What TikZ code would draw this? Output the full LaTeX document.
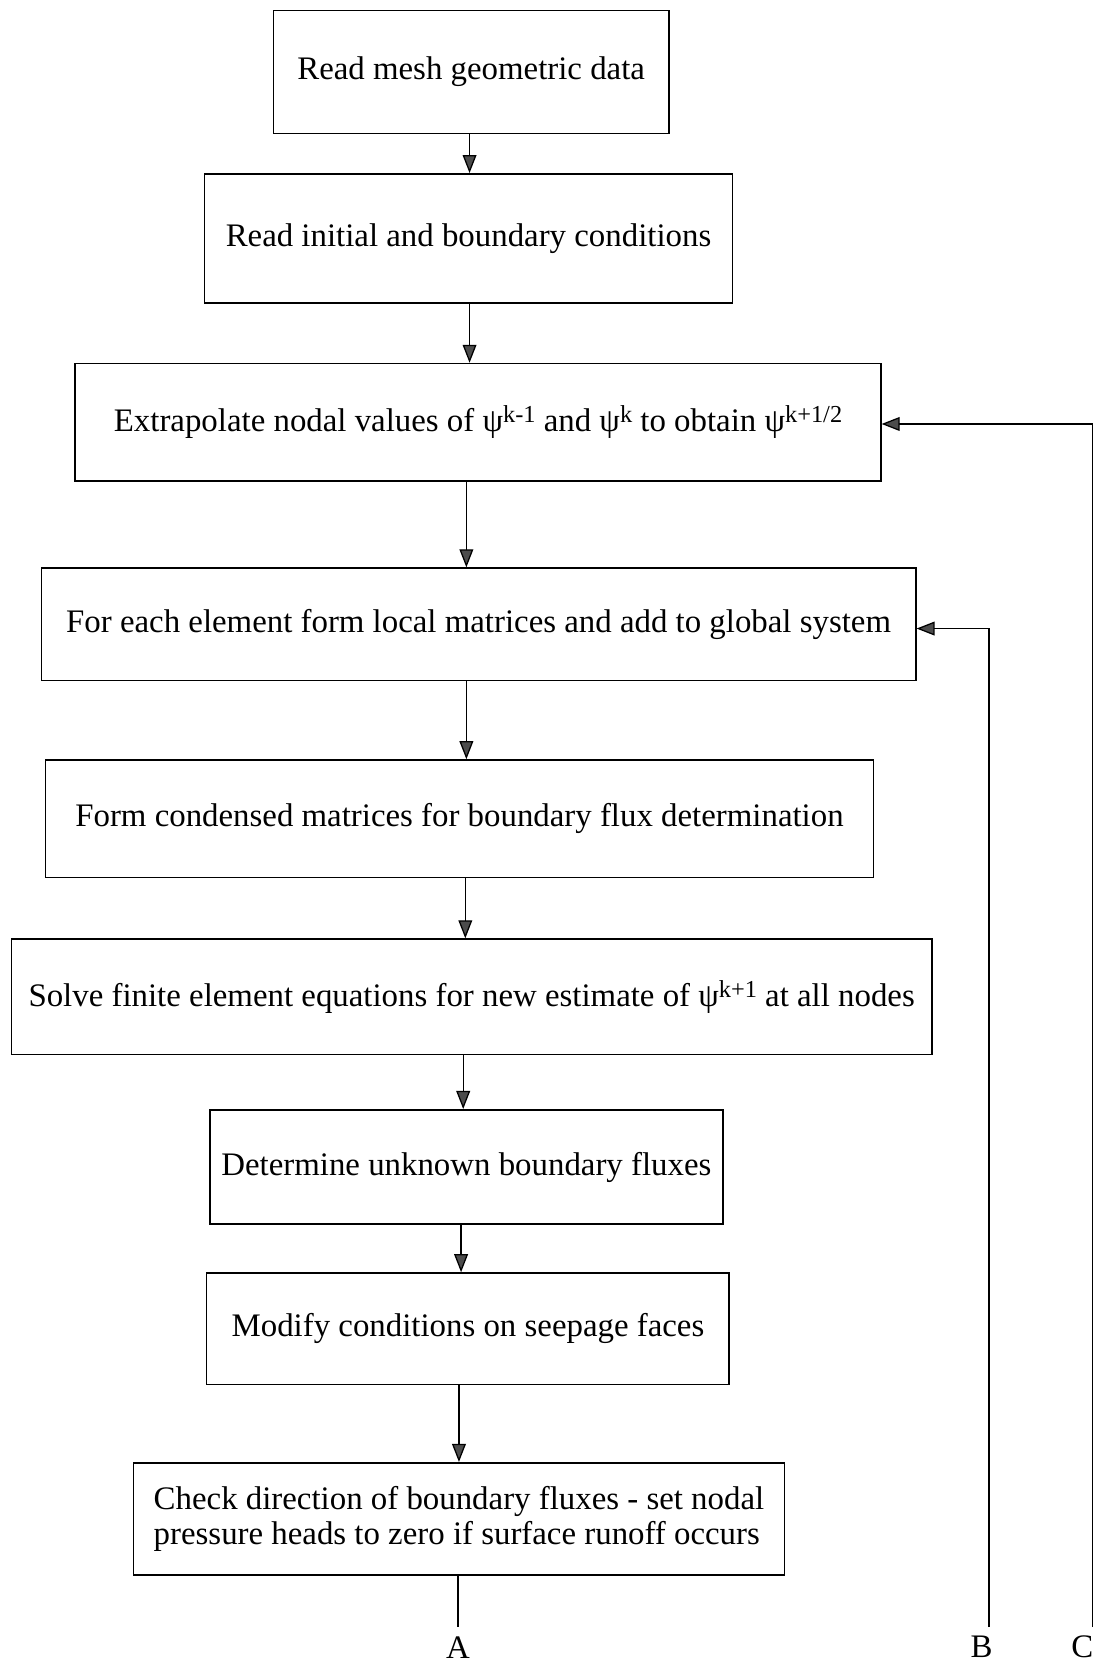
\documentclass[tikz,border=0pt]{standalone}
\usepackage{fontspec}
\setmainfont{Liberation Serif}
\usetikzlibrary{arrows.meta}
\newcommand\psisup[1]{ψ\raisebox{0.6ex}{\fontsize{23}{23}\selectfont #1}}
\begin{document}
\begin{tikzpicture}[x=1pt,y=-1pt,
  box/.style={draw, line width=1.5pt, inner sep=0pt, align=center,
    font=\fontsize{31}{33}\selectfont},
  arr/.style={line width=1.2pt, -{Triangle[length=17pt,width=13pt,fill=black!70]}},
  conn/.style={line width=1.2pt},
  lab/.style={inner sep=0pt, font=\fontsize{31}{33}\selectfont}]
\useasboundingbox (0,0) rectangle (1042,1568);

\node[box, minimum width=373pt, minimum height=116pt] (b1) at (444.5,68) {Read mesh geometric data};
\node[box, minimum width=498pt, minimum height=122pt] (b2) at (442,225) {Read initial and boundary conditions};
\node[box, minimum width=760pt, minimum height=111pt] (b3) at (451,398.5) {Extrapolate nodal values of \psisup{k-1} and \psisup{k} to obtain \psisup{k+1/2}};
\node[box, minimum width=825pt, minimum height=106pt] (b4) at (451.5,589) {For each element form local matrices and add to global system};
\node[box, minimum width=781pt, minimum height=111pt] (b5) at (433.5,772.5) {Form condensed matrices for boundary flux determination};
\node[box, minimum width=868pt, minimum height=109pt] (b6) at (445,940.5) {Solve finite element equations for new estimate of \psisup{k+1} at all nodes};
\node[box, minimum width=484pt, minimum height=108pt] (b7) at (440,1101) {Determine unknown boundary fluxes};
\node[box, minimum width=493pt, minimum height=105pt] (b8) at (441.5,1253.5) {Modify conditions on seepage faces};
\node[box, minimum width=614pt, minimum height=106pt, align=left] (b9) at (433,1433) {Check direction of boundary fluxes - set nodal\\pressure heads to zero if surface runoff occurs};

\coordinate (c12) at (443,0);
\coordinate (c23) at (443,0);
\coordinate (c34) at (440,0);
\coordinate (c45) at (440,0);
\coordinate (c56) at (439,0);
\coordinate (c67) at (437,0);
\coordinate (c78) at (435,0);
\coordinate (c89) at (433,0);
\coordinate (Abot) at (432,1535);
\coordinate (Bbot) at (933,1535);
\coordinate (Cbot) at (1031,1535);

\draw[arr] (b1.south -| c12) -- (b2.north -| c12);
\draw[arr] (b2.south -| c23) -- (b3.north -| c23);
\draw[arr] (b3.south -| c34) -- (b4.north -| c34);
\draw[arr] (b4.south -| c45) -- (b5.north -| c45);
\draw[arr] (b5.south -| c56) -- (b6.north -| c56);
\draw[arr] (b6.south -| c67) -- (b7.north -| c67);
\draw[arr] (b7.south -| c78) -- (b8.north -| c78);
\draw[arr] (b8.south -| c89) -- (b9.north -| c89);
\draw[conn] (b9.south -| Abot) -- (Abot);
\draw[arr] (Bbot) |- ([yshift=-4pt]b4.east);
\draw[arr] (Cbot) |- ([yshift=-1.5pt]b3.east);

\node[lab] (lA) at (432,1554) {A};
\node[lab] (lB) at (926,1554) {B};
\node[lab] (lC) at (1021,1554) {C};
\end{tikzpicture}
\end{document}
